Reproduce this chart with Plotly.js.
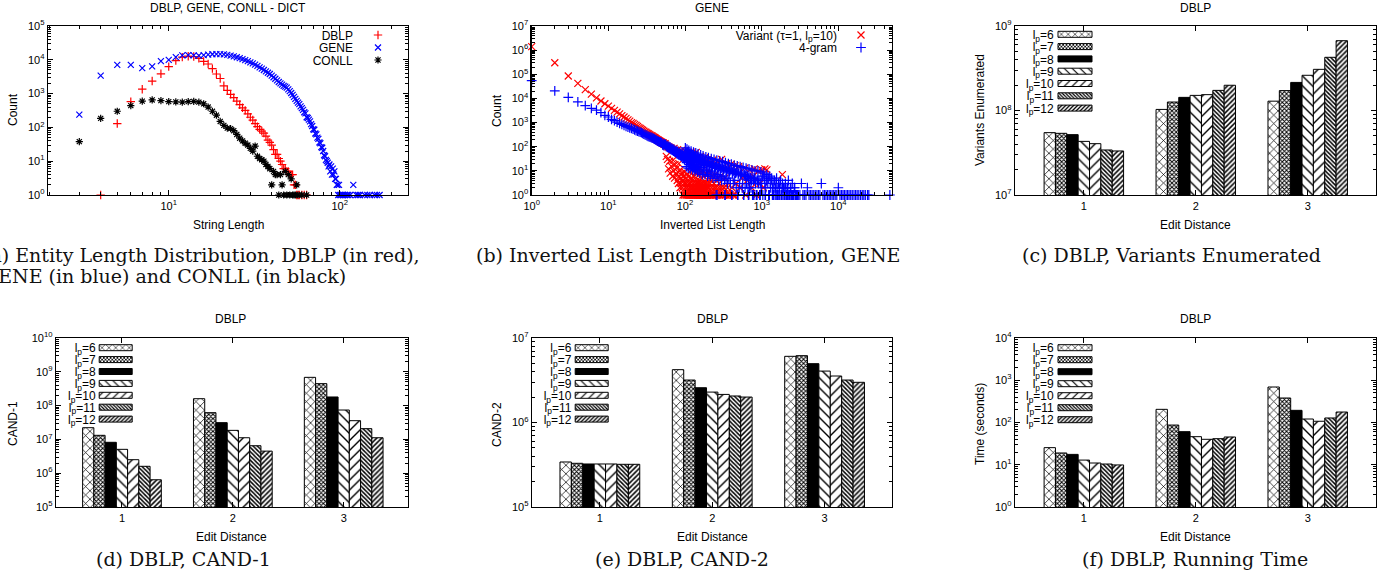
<!DOCTYPE html>
<html><head><meta charset="utf-8">
<script src="https://cdn.plot.ly/plotly-3.0.1.min.js"></script>
<style>html,body{margin:0;padding:0;background:#fff;}#chart{width:1389px;height:580px;}</style>
</head><body><div id="chart"></div>
<script>
// ---------- (a) Entity length distribution: [string length, count] ----------
const DICT_DBLP = [[4,1],[5,130],[6,580],[7,1350],[8,2350],[9,3850],[10,6300],[11,9500],[12,12000],[13,12800],[14,12500],[15,11000],[16,9000],[17,7500],[18,5500],[19,3800],[20,2800],[21,1700],[22,1250],[23,950],[24,760],[25,600],[26,470],[27,380],[28,320],[29,250],[30,200],[31,165],[32,130],[33,105],[34,88],[35,78],[36,68],[37,55],[38,42],[39,36],[40,30],[41,22],[42,16],[43,16],[44,12],[45,10],[46,8],[47,6],[48,6],[49,5],[50,5],[51,4],[52,4],[53,4],[54,2],[55,2],[56,1],[57,1],[58,1],[60,1],[62,1],[64,1]];
const DICT_GENE = [[3,240],[4,3400],[5,7100],[6,7100],[7,5700],[8,6400],[9,9100],[10,10000],[11,12000],[12,13500],[13,13800],[14,13500],[15,13300],[16,13800],[17,14200],[18,14600],[19,14800],[20,14800],[21,14500],[22,14000],[23,13300],[24,12600],[25,11900],[26,11200],[27,10500],[28,9800],[29,9100],[30,8400],[31,7800],[32,7200],[33,6600],[34,6000],[35,5500],[36,5000],[37,4550],[38,4150],[39,3800],[40,3400],[41,3050],[42,2750],[43,2450],[44,2200],[45,2000],[46,1850],[47,1700],[48,1600],[49,1500],[50,1330],[51,1180],[52,1040],[53,920],[54,800],[55,700],[56,610],[57,540],[58,490],[59,420],[60,370],[61,330],[62,280],[63,260],[64,200],[65,190],[66,170],[67,150],[68,125],[69,110],[70,88],[71,85],[72,66],[73,62],[74,50],[75,46],[76,36],[77,34],[78,26],[79,25],[80,20],[81,15],[82,14],[83,11],[84,10],[85,9],[86,7],[87,8],[88,5],[89,7],[90,4],[91,6],[92,4],[93,5],[94,3],[95,3],[96,2],[97,2],[98,1],[99,2],[100,1],[102,1],[104,1],[105,1],[107,1],[110,1],[112,1],[115,1],[120,2],[125,1],[128,1],[131,1],[140,1],[145,1],[150,1],[160,1],[165,1],[171,1]];
const DICT_CONLL = [[3,38],[4,185],[5,300],[6,440],[7,600],[8,650],[9,620],[10,580],[11,570],[12,560],[13,580],[14,590],[15,560],[16,500],[17,400],[18,300],[19,230],[20,150],[21,115],[22,95],[23,92],[24,80],[25,62],[26,48],[27,40],[28,34],[29,30],[30,24],[31,20],[32,28],[33,14],[34,12],[35,11],[36,10],[37,8],[38,7],[39,6],[40,2],[41,5],[42,4],[43,4],[44,1],[45,4],[46,2],[47,1],[48,5],[49,1],[50,4],[51,1],[52,3],[53,1],[54,1],[55,1],[56,2],[57,1],[60,1],[64,1]];

// ---------- (b) Inverted list length distribution, GENE: [list length, count] ----------
const VARIANT = [[1,1400000],[2,300000],[3,85000],[4,42000],[5,23000],[6,15000],[7,10500],[8,7800],[9,6000],[10,4800],[11,3900],[12,3200],[13,2700],[14,2300],[15,1950],[16,1700],[17,1500],[18,1300],[19,1150],[20,1000],[21,920],[22,840],[23,760],[24,690],[25,620],[26,570],[27,520],[28,480],[29,440],[30,410],[31,390],[32,360],[33,345],[34,320],[35,300],[36,290],[37,280],[38,260],[39,250],[40,235],[41,225],[42,210],[43,200],[44,190],[45,185],[46,175],[47,168],[48,160],[49,155],[50,150],
[51,140],[52,145],[53,130],[54,125],[55,135],[56,115],[57,40],[58,105],[59,30],[60,100],[61,12],[62,95],[63,25],[64,8],[65,90],[66,85],[67,15],[68,75],[69,6],[70,28],[71,10],[72,85],[73,5],[74,18],[75,70],[76,65],[77,7],[78,13],[79,4],[80,75],[81,9],[82,3],[83,20],[84,6],[85,60],[86,2],[87,11],[88,5],[89,3],[90,70],[91,8],[92,2],[93,4],[94,1],[95,55],[96,6],[97,3],[98,1],[99,9],[100,65],
[101,2],[102,5],[103,1],[104,3],[105,7],[106,1],[107,2],[108,4],[109,1],[110,55],[111,3],[112,1],[113,6],[114,2],[115,1],[116,9],[117,1],[118,3],[119,2],[120,60],[121,1],[122,5],[123,1],[124,2],[125,4],[126,1],[127,3],[128,1],[129,2],[130,48],[131,1],[132,6],[133,1],[134,12],[135,2],[136,8],[137,1],[138,3],[139,1],[140,58],[141,2],[142,4],[143,1],[144,10],[145,1],[146,2],[147,3],[148,1],[149,14],[150,3],[151,2],[152,1],[153,7],[154,4],[155,1],[156,1],[157,2],[158,2],[159,1],[160,40],[161,3],[162,1],[163,9],[164,2],[165,5],[166,1],[167,11],[168,1],[169,3],[170,2],[171,1],[172,1],[173,2],[174,1],[175,1],[176,6],[177,2],[178,3],[179,1],[180,35],[181,1],[182,1],[183,3],[184,1],[185,2],[186,8],[188,2],[190,1],[192,1],[193,3],[195,7],[197,1],[198,2],[200,30],[202,1],[205,2],[207,9],[210,1],[212,3],[215,1],[218,1],[220,4],[222,2],[225,6],[228,1],[230,28],[232,1],[235,1],[238,3],[240,2],[245,7],[250,1],[255,2],[260,25],[265,5],[270,1],[275,2],[280,3],[285,1],[290,6],[295,2],[300,30],[305,1],[310,1],[315,1],[320,2],[325,2],[330,5],[340,1],[350,20],[360,2],[370,1],[380,1],[390,1],[400,19],[410,2],[420,1],[430,1],[440,1],[450,16],[460,3],[500,15],[520,2],[560,5],[600,13],[620,1],[650,4],[700,11],[740,2],[780,6],[800,12],[850,1],[900,10],[950,3],[1000,11],[1050,2],[1100,12],[1170,11],[1860,7]];
const GRAM4 = [[1,55000],[2,20500],[3,11000],[4,7200],[5,5000],[6,3900],[7,3300],[8,2600],[9,2000],[10,1700],[11,1350],[12,1200],[13,1050],[14,920],[15,840],[16,760],[17,700],[18,650],[19,610],[20,580],[21,540],[22,500],[23,470],[24,440],[25,420],[26,400],[27,380],[28,355],[29,335],[30,315],[31,300],[32,285],[33,270],[34,260],[35,250],[36,245],[37,235],[38,225],[39,215],[40,205],[41,195],[42,188],[43,180],[44,172],[45,165],[46,160],[47,155],[48,150],[49,147],[50,140],
[51,120],[52,132],[53,110],[54,125],[55,128],[56,118],[57,100],[58,112],[59,95],[60,106],[61,90],[62,100],[63,85],[64,95],[65,78],[66,88],[67,74],[68,84],[69,70],[70,80],[71,66],[72,76],[73,64],[74,60],[75,58],[76,70],[77,62],[78,55],[79,50],[80,64],[81,56],[82,48],[83,46],[84,58],[85,52],[86,45],[87,42],[88,52],[89,48],[90,40],[91,38],[92,48],[93,44],[94,35],[95,36],[96,44],[97,40],[98,30],[99,33],[100,42],
[101,90],[102,40],[103,55],[104,15],[105,22],[106,80],[107,60],[108,35],[109,28],[110,13],[111,45],[112,70],[113,18],[114,32],[115,50],[116,24],[117,12],[118,40],[119,20],[120,65],[121,48],[122,16],[123,30],[124,38],[125,26],[126,11],[127,44],[128,19],[129,60],[130,36],[131,14],[132,27],[133,40],[134,22],[135,10],[136,33],[137,12],[138,55],[139,37],[140,18],[141,25],[143,30],[144,15],[145,9],[146,34],[147,11],[148,50],[150,28],[151,16],[152,23],[154,31],[156,8],[158,26],[160,46],[162,14],[164,21],[166,24],[168,7],[170,28],[172,42],[174,12],[177,19],[179,22],[182,7],[184,25],[187,38],[190,11],[192,17],[195,20],[197,6],[200,23],[202,35],[205,10],[208,16],[211,18],[214,6],[217,20],[220,32],[223,9],[226,15],[229,17],[232,5],[235,19],[239,30],[243,8],[246,14],[250,15],[253,5],[255,1],[258,17],[260,28],[262,1],[264,7],[268,13],[272,14],[276,4],[280,15],[284,26],[288,6],[292,12],[296,13],[300,4],[305,14],[309,24],[313,6],[318,11],[322,12],[327,4],[330,1],[333,13],[335,1],[337,22],[342,5],[347,10],[352,11],[357,3],[362,12],[368,20],[373,5],[379,9],[384,10],[390,3],[396,11],[402,19],[405,1],[410,1],[414,8],[420,9],[426,3],[432,10],[439,17],[445,4],[452,8],[459,8],[466,2],[473,9],[480,16],[485,1],[490,1],[494,7],[500,8],[509,2],[517,3],[524,15],[532,7],[540,7],[548,8],[556,2],[565,3],[573,14],[580,1],[585,1],[590,6],[600,7],[608,2],[617,6],[626,13],[635,3],[645,6],[655,6],[664,2],[670,1],[675,5],[680,1],[684,12],[695,2],[705,5],[715,5],[726,2],[737,4],[748,11],[760,1],[770,5],[775,1],[780,4],[793,1],[805,5],[817,10],[830,3],[842,4],[850,1],[860,1],[867,1],[880,4],[893,10],[907,3],[920,4],[940,1],[948,1],[955,1],[960,3],[976,9],[990,2],
[1005,4],[1030,6],[1035,1],[1066,8],[1080,5],[1098,3],[1110,1],[1120,1],[1131,2],[1150,4],[1165,7],[1200,3],[1220,5],[1236,1],[1250,1],[1260,1],[1273,6],[1290,3],[1311,2],[1330,4],[1350,5],[1380,1],[1390,2],[1400,1],[1410,3],[1432,1],[1450,2],[1475,4],[1500,1],[1520,2],[1540,3],[1550,1],[1565,5],[1590,2],[1612,1],[1640,1],[1660,3],[1690,2],[1700,1],[1710,2],[1740,3],[1760,4],[1790,1],[1813,1],[1840,2],[1850,1],[1867,3],[1900,2],[1923,2],[1950,1],[1980,1],[2000,2],[2020,1],[2040,3],[2070,2],[2100,1],[2130,1],[2163,2],[2180,1],[2200,2],[2228,4],[2260,1],[2295,1],[2320,1],[2340,1],[2364,2],[2400,2],[2435,1],[2470,1],[2508,3],[2530,1],[2560,1],[2583,1],[2620,1],[2660,2],[2700,2],[2740,1],[2760,1],[2790,1],[2822,1],[2860,1],[2907,1],[2950,1],
[3000,1],[3150,1],[3300,3],[3450,1],[3600,1],[3780,1],[3950,2],[4150,1],[4350,1],[4550,1],[4780,1],[5000,1],[5250,1],[5500,1],[5750,1],[6000,3],[6300,1],[6600,1],[6900,1],[7250,1],[7600,1],[7950,1],[8300,1],[8700,1],[9100,1],[9550,1],[10000,2],[10500,1],[11000,1],[11500,1],[12000,1],[12600,1],[13200,1],[13800,1],[14500,1],[15200,1],[16000,1],[16800,1],[17600,1],[18500,1],[19500,1],[20500,1],[21500,1],[22500,1],[24000,1],[25000,1],[47000,1]];

// ---------- (c)-(f) DBLP bar charts: rows l_p = 6..12, columns edit distance 1..3 ----------
const EDIT_DISTANCE = [1, 2, 3];
const LP_LABELS = ['l<sub>p</sub>=6','l<sub>p</sub>=7','l<sub>p</sub>=8','l<sub>p</sub>=9','l<sub>p</sub>=10','l<sub>p</sub>=11','l<sub>p</sub>=12'];
const VARIANTS_ENUMERATED = [
  [5.47e7, 1.03e8, 1.29e8],
  [5.37e7, 1.26e8, 1.72e8],
  [5.18e7, 1.43e8, 2.15e8],
  [4.31e7, 1.51e8, 2.61e8],
  [4.05e7, 1.54e8, 3.07e8],
  [3.41e7, 1.73e8, 4.26e8],
  [3.32e7, 1.99e8, 6.70e8]];
const CAND1 = [
  [2.22e7, 1.60e8, 6.86e8],
  [1.32e7, 6.18e7, 4.46e8],
  [8.2e6, 3.13e7, 1.80e8],
  [5.08e6, 1.85e7, 7.4e7],
  [2.51e6, 1.12e7, 3.58e7],
  [1.6e6, 6.5e6, 2.08e7],
  [6.4e5, 4.5e6, 1.12e7]];
const CAND2 = [
  [3.41e5, 4.22e6, 6.07e6],
  [3.29e5, 3.18e6, 6.18e6],
  [3.23e5, 2.58e6, 4.97e6],
  [3.23e5, 2.29e6, 4.06e6],
  [3.23e5, 2.15e6, 3.55e6],
  [3.20e5, 2.06e6, 3.18e6],
  [3.20e5, 2.00e6, 2.99e6]];
const RUNNING_TIME = [
  [25.4, 205, 692],
  [19.0, 87, 380],
  [17.6, 60.7, 194],
  [12.9, 46.2, 121],
  [11.0, 40, 107],
  [10.4, 41.4, 128],
  [9.9, 45.4, 177]];

// tick values (labels are written as 10^k)
const TICKS_LEN_A = [10, 100];
const TICKS_COUNT_A = [1, 10, 100, 1e3, 1e4, 1e5];
const TICKS_LEN_B = [1, 10, 100, 1e3, 1e4];
const TICKS_COUNT_B = [1, 10, 100, 1e3, 1e4, 1e5, 1e6, 1e7];
const TICKS_VARIANTS = [1e7, 1e8, 1e9];
const TICKS_CAND1 = [1e5, 1e6, 1e7, 1e8, 1e9, 1e10];
const TICKS_CAND2 = [1e5, 1e6, 1e7];
const TICKS_TIME = [1, 10, 100, 1e3, 1e4];

// ---------- styling ----------
const FONT = 'Liberation Sans, Arial, Helvetica, sans-serif';
const SERIF = 'DejaVu Serif, Liberation Serif, serif';
const W = 1389, H = 580;
const PATTERNS = [
  {color:'#fff', pattern:{shape:'x', size:6, solidity:0.22, fgcolor:'#000', bgcolor:'#fff'}},
  {color:'#fff', pattern:{shape:'x', size:3, solidity:0.55, fgcolor:'#000', bgcolor:'#fff'}},
  {color:'#000', pattern:{shape:''}},
  {color:'#fff', pattern:{shape:'\\', size:7, solidity:0.2, fgcolor:'#000', bgcolor:'#fff'}},
  {color:'#fff', pattern:{shape:'/', size:7, solidity:0.2, fgcolor:'#000', bgcolor:'#fff'}},
  {color:'#fff', pattern:{shape:'\\', size:3, solidity:0.5, fgcolor:'#000', bgcolor:'#fff'}},
  {color:'#fff', pattern:{shape:'/', size:3.5, solidity:0.45, fgcolor:'#000', bgcolor:'#fff'}}
];
const powLabel = v => '10<sup>' + Math.round(Math.log10(v)) + '</sup>';
function minorTicks(range) {
  const out = [];
  for (let k = Math.floor(range[0]); k <= Math.ceil(range[1]); k++) {
    for (let m = 2; m <= 9; m++) {
      const lv = Math.log10(m) + k;
      if (lv > range[0] && lv < range[1]) out.push(m * Math.pow(10, k));
    }
  }
  return out;
}
function axis(p0, p1, isX, anchor, type, range, ticks, texts) {
  const dom = isX ? [p0 / W, p1 / W] : [1 - p1 / H, 1 - p0 / H];
  const a = {domain: dom, anchor: anchor, type: type, range: range, showline: true, linecolor: '#000', linewidth: 1.3,
    mirror: 'ticks', ticks: 'inside', ticklen: 5, tickwidth: 1, tickcolor: '#000', showgrid: false,
    zeroline: false, fixedrange: true,
    tickmode: 'array', tickvals: ticks, ticktext: texts || ticks.map(powLabel),
    tickfont: {family: FONT, size: 11, color: '#000'}};
  if (type === 'log') {
    a.minor = {tickmode: 'array', tickvals: minorTicks(range), ticks: 'inside', ticklen: 3,
      tickwidth: 1, tickcolor: '#000', showgrid: false};
  }
  return a;
}
const BAR_X = (p0, p1, anchor, r) => axis(p0, p1, true, anchor, 'linear', r, EDIT_DISTANCE, EDIT_DISTANCE.map(String));

const traces = [];
function scatter(pairs, name, sym, color, xa, ya, leg, size) {
  traces.push({type: 'scatter', mode: 'markers', x: pairs.map(p => p[0]), y: pairs.map(p => p[1]), name: name,
    xaxis: xa, yaxis: ya, legend: leg, cliponaxis: false,
    marker: {symbol: sym, size: size, color: color, line: {color: color, width: 1.2}}});
}
scatter(DICT_DBLP, 'DBLP', 'cross-thin', '#ff0000', 'x', 'y', 'legend', 6);
scatter(DICT_GENE, 'GENE', 'x-thin', '#0000ff', 'x', 'y', 'legend', 6);
scatter(DICT_CONLL, 'CONLL', 'asterisk-open', '#000000', 'x', 'y', 'legend', 6);
scatter(VARIANT, 'Variant (τ=1, l<sub>p</sub>=10)', 'x-thin', '#ff0000', 'x2', 'y2', 'legend2', 7);
scatter(GRAM4, '4-gram', 'cross-thin', '#0000ff', 'x2', 'y2', 'legend2', 7);

function bars(table, xa, ya, leg) {
  table.forEach((row, i) => {
    traces.push({type: 'bar', x: EDIT_DISTANCE, y: row, name: LP_LABELS[i], xaxis: xa, yaxis: ya, legend: leg,
      marker: {color: PATTERNS[i].color, pattern: PATTERNS[i].pattern, line: {color: '#000', width: 1}}});
  });
}
bars(VARIANTS_ENUMERATED, 'x3', 'y3', 'legend3');
bars(CAND1, 'x4', 'y4', 'legend4');
bars(CAND2, 'x5', 'y5', 'legend5');
bars(RUNNING_TIME, 'x6', 'y6', 'legend6');

function ann(text, x, y, o) {
  return Object.assign({text: text, x: x / W, y: 1 - y / H, xref: 'paper', yref: 'paper', showarrow: false,
    xanchor: 'center', yanchor: 'middle', font: {family: FONT, size: 12, color: '#000'}}, o || {});
}
const cap = {font: {family: SERIF, size: 19, color: '#111'}};
const capL = Object.assign({xanchor: 'left', align: 'left'}, cap);
const annotations = [
  ann('DBLP, GENE, CONLL - DICT', 228, 8), ann('GENE', 712, 8), ann('DBLP', 1195, 8),
  ann('DBLP', 230, 319), ann('DBLP', 712, 319), ann('DBLP', 1195, 319),
  ann('String Length', 228, 225), ann('Inverted List Length', 712, 225), ann('Edit Distance', 1195, 225),
  ann('Edit Distance', 231, 537), ann('Edit Distance', 712, 537), ann('Edit Distance', 1195, 537),
  ann('Count', 13, 110, {textangle: -90}), ann('Count', 497, 110, {textangle: -90}),
  ann('Variants Enumerated', 980, 110, {textangle: -90}),
  ann('CAND-1', 13, 424, {textangle: -90}), ann('CAND-2', 497, 424, {textangle: -90}),
  ann('Time (seconds)', 980, 424, {textangle: -90}),
  ann('(a) Entity Length Distribution, DBLP (in red),', -19, 255, capL),
  ann('GENE (in blue) and CONLL (in black)', -19, 276, capL),
  ann('(b) Inverted List Length Distribution, GENE', 688, 255, cap),
  ann('(c) DBLP, Variants Enumerated', 1171, 255, cap),
  ann('(d) DBLP, CAND-1', 183, 559, cap),
  ann('(e) DBLP, CAND-2', 682, 559, cap),
  ann('(f) DBLP, Running Time', 1195, 559, cap)
];

const legBase = (x, y) => ({x: x / W, y: 1 - y / H, xanchor: 'left', yanchor: 'top', bgcolor: 'rgba(0,0,0,0)',
  borderwidth: 0, font: {family: FONT, size: 12, color: '#000'}, tracegroupgap: 0});

const layout = {
  width: W, height: H, margin: {l: 0, r: 0, t: 0, b: 0}, paper_bgcolor: '#fff', plot_bgcolor: '#fff',
  showlegend: true, barmode: 'group', bargap: 0.29, bargroupgap: 0,
  font: {family: FONT, size: 12, color: '#000'},
  xaxis: axis(48, 408, true, 'y', 'log', [0.294, 2.399], TICKS_LEN_A),
  yaxis: axis(26, 195, false, 'x', 'log', [0, 5], TICKS_COUNT_A),
  xaxis2: axis(531.7, 892, true, 'y2', 'log', [0, 4.70], TICKS_LEN_B),
  yaxis2: axis(26, 195, false, 'x2', 'log', [0, 7], TICKS_COUNT_B),
  xaxis3: BAR_X(1015, 1376, 'y3', [0.385, 3.61]),
  yaxis3: axis(26, 195, false, 'x3', 'log', [7, 9], TICKS_VARIANTS),
  xaxis4: BAR_X(56, 408, 'y4', [0.405, 3.58]),
  yaxis4: axis(338, 507, false, 'x4', 'log', [5, 10], TICKS_CAND1),
  xaxis5: BAR_X(532, 892, 'y5', [0.396, 3.6]),
  yaxis5: axis(338, 507, false, 'x5', 'log', [5, 7], TICKS_CAND2),
  xaxis6: BAR_X(1015, 1376, 'y6', [0.385, 3.61]),
  yaxis6: axis(338, 507, false, 'x6', 'log', [0, 4], TICKS_TIME),
  legend: legBase(300, 28), legend2: legBase(740, 28), legend3: legBase(1020, 28),
  legend4: legBase(60, 340), legend5: legBase(536, 340), legend6: legBase(1020, 340),
  annotations: annotations
};

// gnuplot-style key: text right-aligned, key sample to the right of it, tight rows
const KEYS = {
  legend:  {textEnd: 353, y0: 35, dy: 12.5, swX: 378},
  legend2: {textEnd: 837, y0: 35, dy: 12.5, swX: 861},
  legend3: {textEnd: 1054, y0: 34.3, dy: 12.3, swX: 1075, swW: 34, swH: 6},
  legend4: {textEnd: 96, y0: 347.7, dy: 11.9, swX: 115.7, swW: 33, swH: 6},
  legend5: {textEnd: 571.7, y0: 347.7, dy: 11.9, swX: 591.7, swW: 33, swH: 6},
  legend6: {textEnd: 1054, y0: 347.7, dy: 12, swX: 1075, swW: 34, swH: 6}
};
function fixKeys() {
  const root = document.getElementById('chart').getBoundingClientRect();
  Object.keys(KEYS).forEach(id => {
    const k = KEYS[id];
    let g = null;
    document.querySelectorAll('#chart g.' + id).forEach(c => {
      if (!g && c.getAttribute('class').split(' ').indexOf(id) >= 0) g = c;
    });
    if (!g) return;
    g.setAttribute('transform', 'translate(0,0)');
    g.removeAttribute('clip-path');
    const bg = g.querySelector('rect.bg'); if (bg) bg.setAttribute('display', 'none');
    const sb = g.querySelector('g.scrollbox');
    if (sb) { sb.removeAttribute('clip-path'); sb.setAttribute('transform', 'translate(0,0)'); }
    g.querySelectorAll('g.groups').forEach(gg => gg.setAttribute('transform', 'translate(0,0)'));
    g.querySelectorAll('g.traces').forEach((tr, i) => {
      const rowY = k.y0 + i * k.dy;
      tr.setAttribute('transform', 'translate(' + k.textEnd + ',' + rowY + ')');
      // label: keep the library's own text layout, only slide it so that it ends at textEnd
      const t = tr.querySelector('text');
      if (t) {
        t.removeAttribute('transform');
        const tb = t.getBoundingClientRect();
        const off = (root.left + k.textEnd) - tb.right;
        t.setAttribute('transform', 'translate(' + off.toFixed(2) + ',0)');
      }
      const lay = tr.querySelector('g.layers');
      const p = tr.querySelector('g.legendpoints path');
      if (!lay || !p) return;
      if (k.swW) {
        const w = k.swW / 2, h = k.swH / 2;
        p.setAttribute('d', 'M' + w + ',' + h + 'H' + (-w) + 'V' + (-h) + 'H' + w + 'Z');
      }
      lay.removeAttribute('transform');
      const r = p.getBoundingClientRect();
      const dx = (root.left + k.swX) - (r.left + r.width / 2), dy = (root.top + rowY) - (r.top + r.height / 2);
      lay.setAttribute('transform', 'translate(' + dx.toFixed(2) + ',' + dy.toFixed(2) + ')');
    });
  });
}

Plotly.newPlot('chart', traces, layout, {staticPlot: true, displayModeBar: false, responsive: false}).then(() => {
  fixKeys();
  requestAnimationFrame(fixKeys);
  setTimeout(fixKeys, 30);
  setTimeout(fixKeys, 150);
});
</script>
</body></html>
